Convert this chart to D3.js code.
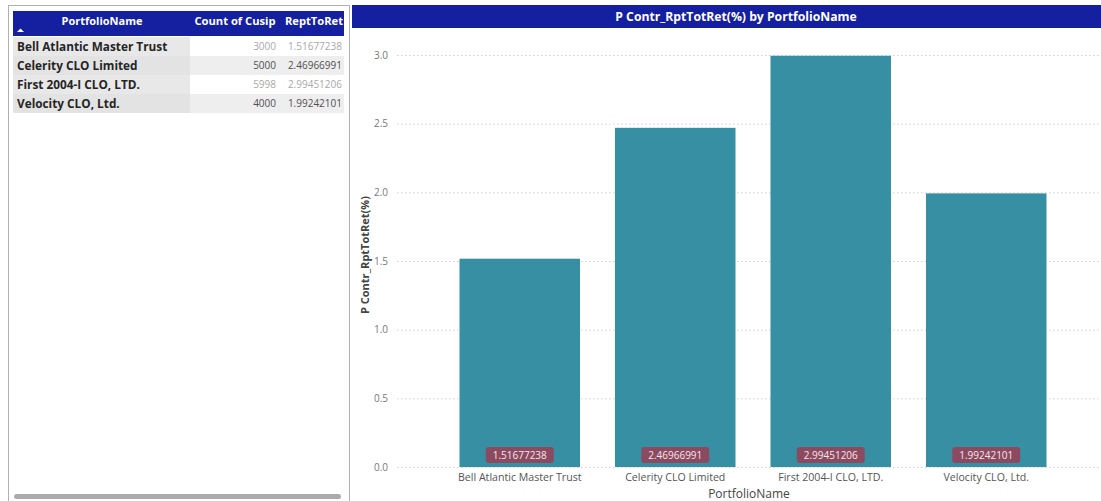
<!DOCTYPE html>
<html>
<head>
<meta charset="utf-8">
<script src="https://cdn.jsdelivr.net/npm/d3@7"></script>
<style>
  body { margin: 0; background: #fff; font-family: "Open Sans", "Noto Sans", sans-serif; }
</style>
</head>
<body>
<svg id="chart" width="1101" height="501"></svg>
<script>
// data
var portfolios = ["Bell Atlantic Master Trust", "Celerity CLO Limited", "First 2004-I CLO, LTD.", "Velocity CLO, Ltd."];
var cusipCounts = [3000, 5000, 5998, 4000];
var rptToRet = [1.51677238, 2.46966991, 2.99451206, 1.99242101];
var yTicks = [0, 0.5, 1.0, 1.5, 2.0, 2.5, 3.0];
var tableHeaders = ["PortfolioName", "Count of Cusip", "ReptToRet"];

var svg = d3.select("#chart");
var navy = "#1420a0";

// ---- left panel: table ----
svg.append("rect")
   .attr("x", 8.5).attr("y", 5.5)
   .attr("width", 341).attr("height", 500)
   .attr("fill", "#fff")
   .attr("stroke", "#b0b0b0");

svg.append("rect")
   .attr("x", 13).attr("y", 11)
   .attr("width", 331).attr("height", 25)
   .attr("fill", navy);

var colX = [102, 235, 314];
var hdrSize = [11, 11.2, 11.2];
svg.selectAll("text.hdr")
   .data(tableHeaders)
   .enter()
   .append("text")
   .attr("class", "hdr")
   .attr("x", function(d, i) { return colX[i]; })
   .attr("y", 25)
   .attr("text-anchor", "middle")
   .attr("fill", "#fff")
   .attr("font-size", function(d, i) { return hdrSize[i] + "px"; })
   .attr("font-weight", "bold")
   .text(function(d) { return d; });

// sort arrow
svg.append("path")
   .attr("d", "M17,32 L20.5,28.5 L24,32 Z")
   .attr("fill", "#fff");

var rowH = 19;
var rows = svg.selectAll("g.row")
   .data(portfolios)
   .enter()
   .append("g")
   .attr("class", "row")
   .attr("transform", function(d, i) { return "translate(0," + (37 + i * rowH) + ")"; });

rows.append("rect")
   .attr("x", 13).attr("width", 331).attr("height", rowH)
   .attr("fill", function(d, i) { return i % 2 ? "#eeeeee" : "#ffffff"; });

rows.append("rect")
   .attr("x", 13).attr("width", 177).attr("height", rowH)
   .attr("fill", function(d, i) { return i % 2 ? "#e3e3e3" : "#e8e8e8"; });

rows.append("text")
   .attr("x", 17).attr("y", 14)
   .attr("font-size", "11.8px")
   .attr("font-weight", "bold")
   .attr("fill", "#252525")
   .text(function(d) { return d; });

rows.append("text")
   .attr("x", 276).attr("y", 13)
   .attr("text-anchor", "end")
   .attr("font-size", "10px")
   .attr("fill", function(d, i) { return i % 2 ? "#505050" : "#a8a8a8"; })
   .text(function(d, i) { return cusipCounts[i]; });

rows.append("text")
   .attr("x", 342).attr("y", 13)
   .attr("text-anchor", "end")
   .attr("font-size", "10px")
   .attr("fill", function(d, i) { return i % 2 ? "#505050" : "#a8a8a8"; })
   .text(function(d, i) { return rptToRet[i].toFixed(8); });

// scrollbar
svg.append("rect")
   .attr("x", 14).attr("y", 494)
   .attr("width", 327).attr("height", 5)
   .attr("rx", 2.5)
   .attr("fill", "#ababab");

// ---- right panel: bar chart ----
svg.append("rect")
   .attr("x", 352).attr("y", 5)
   .attr("width", 749).attr("height", 23)
   .attr("fill", navy);

svg.append("text")
   .attr("x", 736).attr("y", 21)
   .attr("text-anchor", "middle")
   .attr("fill", "#fff")
   .attr("font-size", "12.2px")
   .attr("font-weight", "bold")
   .text("P Contr_RptTotRet(%) by PortfolioName");

var x = d3.scaleBand()
   .domain(portfolios)
   .range([442, 1064])
   .paddingInner(0.225)
   .paddingOuter(0.1125);

var y = d3.scaleLinear()
   .domain([0, 3])
   .range([467, 55]);

// gridlines
svg.append("g")
   .selectAll("line")
   .data(yTicks)
   .enter()
   .append("line")
   .attr("x1", 397).attr("x2", 1100)
   .attr("y1", function(d) { return y(d) + 0.5; })
   .attr("y2", function(d) { return y(d) + 0.5; })
   .attr("stroke", "#d0d0d0")
   .attr("stroke-dasharray", "1.5,2.5");

var yAxis = svg.append("g")
   .attr("transform", "translate(391,0)")
   .call(d3.axisLeft(y).tickValues(yTicks).tickFormat(d3.format(".1f")).tickSize(0));
yAxis.select(".domain").remove();
yAxis.selectAll("text")
   .attr("fill", "#777")
   .attr("font-size", "10px")
   .attr("font-family", "Open Sans, sans-serif");

svg.append("text")
   .attr("transform", "translate(369,255) rotate(-90)")
   .attr("text-anchor", "middle")
   .attr("font-size", "11px")
   .attr("font-weight", "bold")
   .attr("fill", "#444")
   .text("P Contr_RptTotRet(%)");

svg.selectAll("rect.bar")
   .data(rptToRet)
   .enter()
   .append("rect")
   .attr("class", "bar")
   .attr("x", function(d, i) { return x(portfolios[i]); })
   .attr("y", function(d) { return y(d); })
   .attr("width", x.bandwidth())
   .attr("height", function(d) { return y(0) - y(d); })
   .attr("fill", "#378fa3");

// data labels at bar bottoms
var labels = svg.selectAll("g.lbl")
   .data(rptToRet)
   .enter()
   .append("g")
   .attr("class", "lbl")
   .attr("transform", function(d, i) { return "translate(" + (x(portfolios[i]) + x.bandwidth() / 2) + ",455)"; });

labels.append("rect")
   .attr("x", -34).attr("y", -8)
   .attr("width", 68).attr("height", 16)
   .attr("rx", 3)
   .attr("fill", "#8c4a60");

labels.append("text")
   .attr("y", 3.5)
   .attr("text-anchor", "middle")
   .attr("font-size", "10px")
   .attr("fill", "#f5e6ea")
   .text(function(d) { return d.toFixed(8); });

var xAxis = svg.append("g")
   .attr("transform", "translate(0,470)")
   .call(d3.axisBottom(x).tickSize(0));
xAxis.select(".domain").remove();
xAxis.selectAll("text")
   .attr("fill", "#555")
   .attr("font-size", "10.6px")
   .attr("font-family", "Open Sans, sans-serif");

svg.append("text")
   .attr("x", 749).attr("y", 498)
   .attr("text-anchor", "middle")
   .attr("font-size", "12px")
   .attr("fill", "#444")
   .text("PortfolioName");
</script>
</body>
</html>
